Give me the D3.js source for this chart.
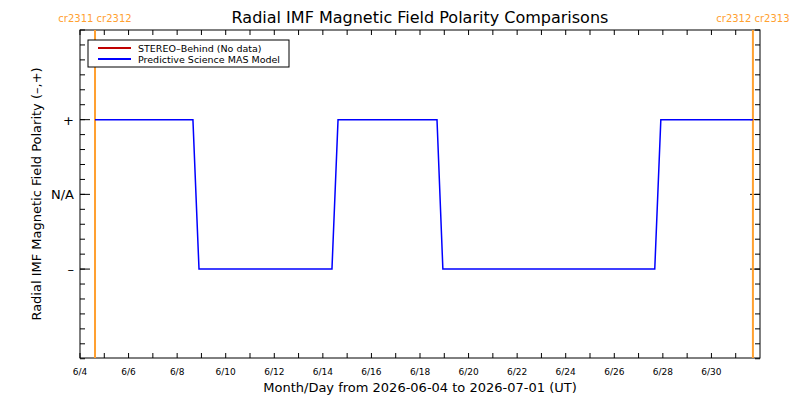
<!DOCTYPE html>
<html><head><meta charset="utf-8">
<script src="https://cdn.jsdelivr.net/npm/d3@7"></script>
<style>body{margin:0;background:#fff}text{font-family:"DejaVu Sans",sans-serif}</style>
</head><body><svg id="c" width="800" height="400"></svg>
<script>
// polarity time series (MAS model), hours from 2026-06-04 00:00 UT
var masHours = [14.8, 111.6, 117.6, 249, 255, 352.8, 358.6, 568, 574, 665];
var masPolarity = [1, 1, -1, -1, 1, 1, -1, -1, 1, 1];
var crossDates = ["2026-06-04T14:50Z", "2026-07-01T17:00Z"];
var crossLabels = [["cr2311", "cr2312"], ["cr2312", "cr2313"]];
var tickDays = [4, 6, 8, 10, 12, 14, 16, 18, 20, 22, 24, 26, 28, 30];
var yTicks = [1, 0, -1], yLabels = ["+", "N/A", "\u2013"];

var svg = d3.select("#c");
var L = 80, R = 760, T = 30, B = 358;
var t0 = new Date("2026-06-04T00:00Z"), t1 = new Date("2026-07-02T00:00Z");
var x = d3.scaleUtc().domain([t0, t1]).range([L, R]);
var y = d3.scaleLinear().domain([-2.19, 2.2]).range([B, T]);

svg.append("rect").attr("x", L).attr("y", T).attr("width", R - L).attr("height", B - T)
  .attr("fill", "none").attr("stroke", "#000");

// daily minor ticks top and bottom
var days = d3.utcDay.range(t0, t1);
days.forEach(function (d) {
  svg.append("line").attr("x1", x(d)).attr("x2", x(d)).attr("y1", B).attr("y2", B - 5).attr("stroke", "#000");
  svg.append("line").attr("x1", x(d)).attr("x2", x(d)).attr("y1", T).attr("y2", T + 5).attr("stroke", "#000");
});
tickDays.forEach(function (dd) {
  var d = new Date(Date.UTC(2026, 5, dd));
  svg.append("text").attr("x", x(d)).attr("y", B + 17).attr("text-anchor", "middle")
    .attr("font-size", 9).text("6/" + dd);
});
// y minor ticks
d3.range(-2.2, 2.21, 0.2).forEach(function (v) {
  svg.append("line").attr("x1", L).attr("x2", L + 5).attr("y1", y(v)).attr("y2", y(v)).attr("stroke", "#000");
  svg.append("line").attr("x1", R).attr("x2", R - 5).attr("y1", y(v)).attr("y2", y(v)).attr("stroke", "#000");
});
yTicks.forEach(function (v, i) {
  svg.append("line").attr("x1", L).attr("x2", L + 10).attr("y1", y(v)).attr("y2", y(v)).attr("stroke", "#000");
  svg.append("line").attr("x1", R).attr("x2", R - 10).attr("y1", y(v)).attr("y2", y(v)).attr("stroke", "#000");
  svg.append("text").attr("x", L - 6).attr("y", y(v) + 5).attr("text-anchor", "end")
    .attr("font-size", 13).text(yLabels[i]);
});

// carrington rotation boundaries
crossDates.forEach(function (s, i) {
  var d = new Date(s);
  svg.append("line").attr("x1", x(d)).attr("x2", x(d)).attr("y1", T).attr("y2", B)
    .attr("stroke", "#ffa030").attr("stroke-width", 2);
  svg.append("text").attr("x", x(d)).attr("y", 22).attr("text-anchor", "middle")
    .attr("font-size", 10).attr("fill", "#ffa030").text(crossLabels[i].join(" "));
});

var line = d3.line()
  .x(function (d) { return x(new Date(t0.getTime() + d[0] * 3600e3)); })
  .y(function (d) { return y(d[1]); });
svg.append("path").datum(masHours.map(function (h, i) { return [h, masPolarity[i]]; }))
  .attr("d", line).attr("fill", "none").attr("stroke", "#0000ff").attr("stroke-width", 1.5);

// legend
var lg = svg.append("g").attr("transform", "translate(88,40)");
lg.append("rect").attr("width", 201).attr("height", 27).attr("fill", "#fff").attr("stroke", "#000");
[["#c00000", "STEREO\u2013Behind (No data)"], ["#0000ff", "Predictive Science MAS Model"]].forEach(function (e, i) {
  var yy = 8 + i * 11;
  lg.append("line").attr("x1", 10).attr("x2", 43).attr("y1", yy).attr("y2", yy).attr("stroke", e[0]).attr("stroke-width", 2);
  lg.append("text").attr("x", 50).attr("y", yy + 3.5).attr("font-size", 9.5).text(e[1]);
});

svg.append("text").attr("x", 420).attr("y", 23).attr("text-anchor", "middle").attr("font-size", 16)
  .text("Radial IMF Magnetic Field Polarity Comparisons");
svg.append("text").attr("x", 420).attr("y", 392).attr("text-anchor", "middle").attr("font-size", 13)
  .text("Month/Day from 2026-06-04 to 2026-07-01 (UT)");
svg.append("text").attr("transform", "translate(41,194) rotate(-90)").attr("text-anchor", "middle")
  .attr("font-size", 13).text("Radial IMF Magnetic Field Polarity (\u2013,+)");
</script></body></html>
